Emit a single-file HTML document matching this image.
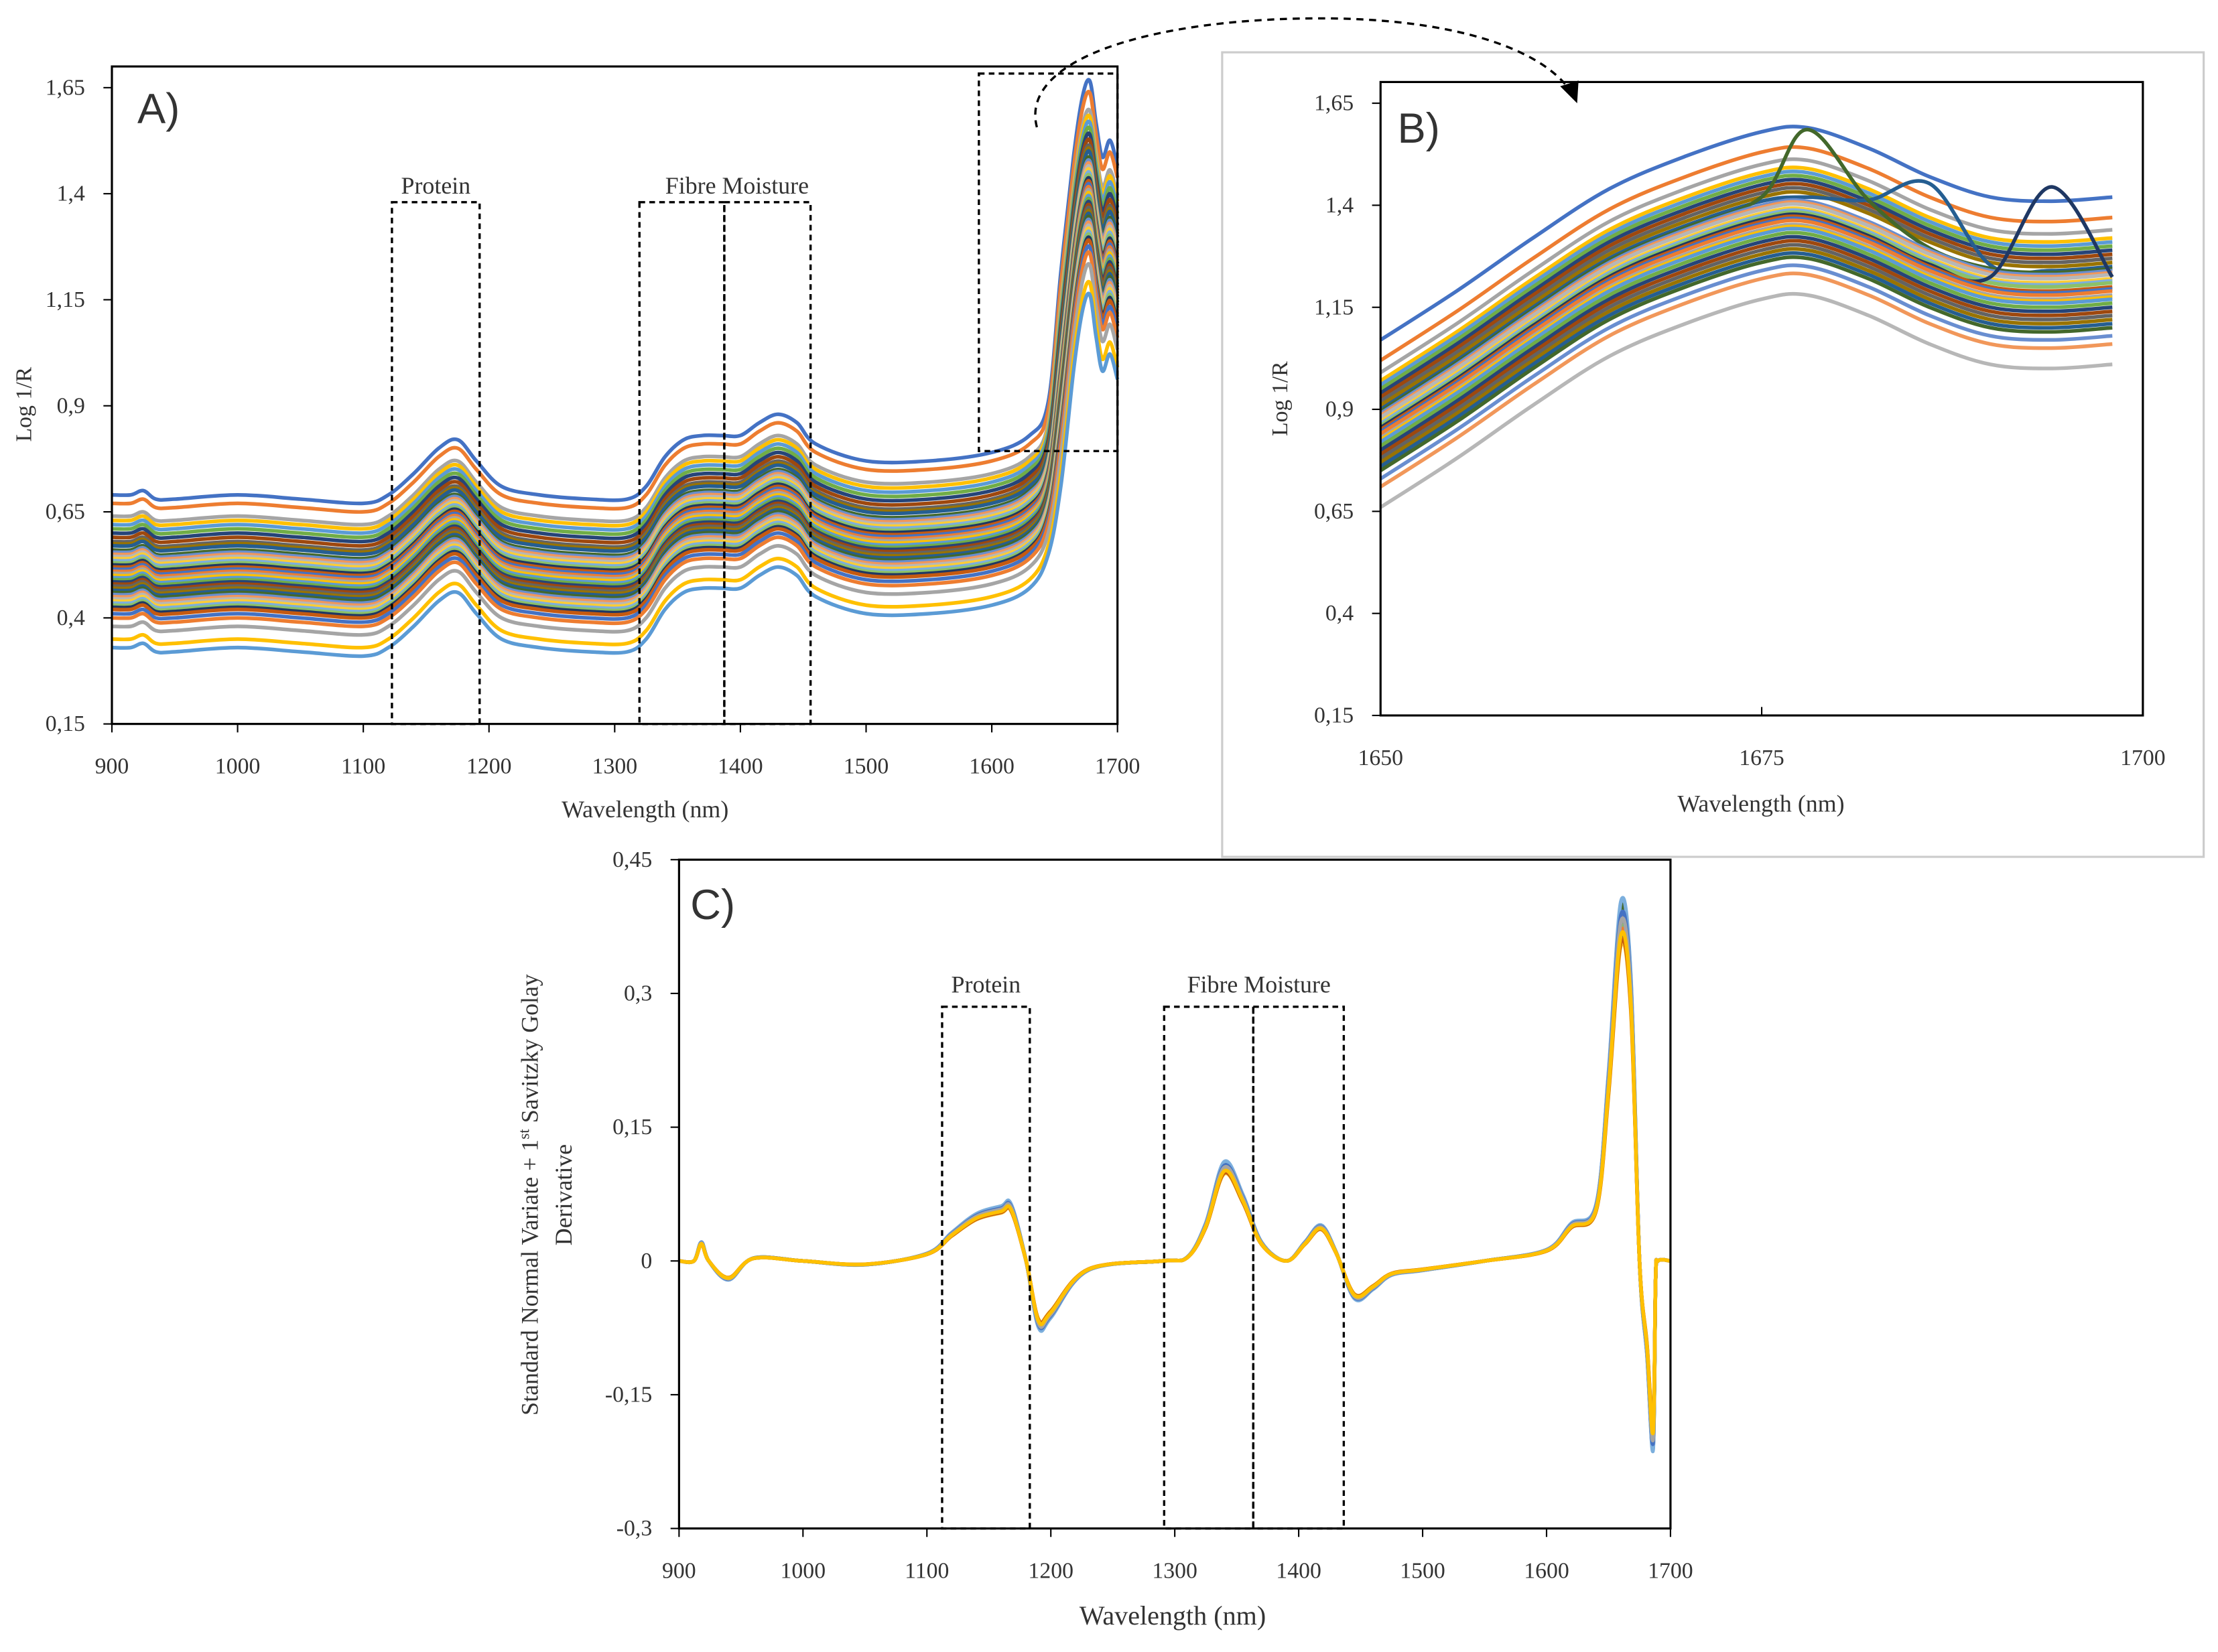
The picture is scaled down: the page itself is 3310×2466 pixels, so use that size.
<!DOCTYPE html>
<html><head><meta charset="utf-8"><style>
html,body{margin:0;padding:0;background:#fff}
svg text{font-family:"Liberation Serif",serif;fill:#333}
</style></head><body>
<svg id="fig" xmlns="http://www.w3.org/2000/svg" width="3310" height="2461" viewBox="0 0 1568 1166">
<rect width="1568" height="1166" fill="#fff"/>
<g id="A"></g>
<g id="B"></g>
<g id="C"></g>
<g id="D"></g>
</svg>
<script>
// ---- data ----
const colors=["#4472C4","#ED7D31","#A5A5A5","#FFC000","#5B9BD5","#70AD47","#264478","#9E480E","#636363","#997300","#255E91","#43682B","#698ED0","#F1975A","#B7B7B7","#FFCD33","#7CAFDD","#8CC168","#1F3864","#C55A11"];
const aWave=[900,915,925,935,950,1000,1050,1100,1120,1140,1160,1175,1190,1210,1240,1280,1310,1325,1340,1355,1370,1385,1400,1415,1430,1445,1460,1500,1550,1600,1630,1645,1655,1665,1672,1678,1683,1688,1694,1700];
const aBase=[0.50,0.50,0.51,0.49,0.49,0.50,0.49,0.48,0.50,0.55,0.61,0.63,0.58,0.52,0.50,0.49,0.49,0.52,0.59,0.63,0.64,0.64,0.64,0.67,0.69,0.67,0.62,0.58,0.58,0.60,0.64,0.72,0.95,1.22,1.36,1.40,1.30,1.22,1.26,1.20];
const aOffsets=[0.19,0.17,0.14,0.13,0.12,0.11,0.10,0.09,0.08,0.075,0.07,0.06,0.055,0.05,0.045,0.04,0.035,0.03,0.025,0.02,0.015,0.01,0.005,0,-0.005,-0.01,-0.015,-0.02,-0.025,-0.03,-0.035,-0.04,-0.045,-0.05,-0.055,-0.06,-0.065,-0.07,-0.075,-0.08,-0.09,-0.1,-0.12,-0.15,-0.17];
const bWave=[1650,1655,1660,1665,1670,1675,1678,1682,1686,1690,1694,1698];
const bBase=[0.85,0.97,1.10,1.22,1.30,1.36,1.37,1.32,1.25,1.20,1.19,1.20];
const bOffsets=[0.22,0.17,0.14,0.12,0.11,0.10,0.09,0.08,0.07,0.06,0.05,0.045,0.04,0.035,0.03,0.02,0.015,0.01,0.005,0,-0.005,-0.01,-0.02,-0.025,-0.03,-0.04,-0.05,-0.06,-0.07,-0.08,-0.09,-0.1,-0.12,-0.14,-0.19];
const bPeakSeries=[11,10,18];
const bPeakWave=[1679,1685,1694];
const bPeakAmp=[0.2,0.18,0.25];
const cWave=[900,912,918,924,940,960,1000,1050,1100,1120,1140,1160,1168,1180,1190,1200,1230,1290,1310,1325,1340,1355,1370,1390,1405,1418,1430,1445,1460,1475,1500,1550,1600,1620,1640,1650,1660,1668,1675,1681,1686,1688,1690,1700];
const cBase=[0,0,0.02,0.0,-0.02,0.003,0,-0.004,0.008,0.03,0.05,0.058,0.06,0.0,-0.07,-0.06,-0.01,0,0.004,0.04,0.105,0.07,0.02,0.0,0.02,0.038,0.01,-0.04,-0.03,-0.015,-0.01,0.0,0.012,0.04,0.06,0.2,0.38,0.3,0.0,-0.1,-0.2,-0.02,0,0];
const cScale=[1.05,1.03,1.0,0.98,0.96,1.02,0.95,1.04,0.97,1.01,0.99,0.93,1.06,0.98,1.0,0.94,1.02,0.97,1.0,0.96];
const aYTicks=["0,15","0,4","0,65","0,9","1,15","1,4","1,65"];
const aYVals=[0.15,0.4,0.65,0.9,1.15,1.4,1.65];
const aXTicks=[900,1000,1100,1200,1300,1400,1500,1600,1700];
const bXTicks=[1650,1675,1700];
const cYTicks=["-0,3","-0,15","0","0,15","0,3","0,45"];
const cYVals=[-0.3,-0.15,0,0.15,0.3,0.45];

const NS="http://www.w3.org/2000/svg";
function mk(parent,tag,attrs,name,txt){const e=document.createElementNS(NS,tag);for(const k in attrs)e.setAttribute(k,attrs[k]);


if(txt!==undefined)e.textContent=txt;parent.appendChild(e);return e;}
function smooth(pts){let d="M"+pts[0][0].toFixed(1)+","+pts[0][1].toFixed(1);
for(let i=0;i<pts.length-1;i++){const p0=pts[Math.max(0,i-1)],p1=pts[i],p2=pts[i+1],p3=pts[Math.min(pts.length-1,i+2)];
d+="C"+(p1[0]+(p2[0]-p0[0])/6).toFixed(1)+","+(p1[1]+(p2[1]-p0[1])/6).toFixed(1)+" "+(p2[0]-(p3[0]-p1[0])/6).toFixed(1)+","+(p2[1]-(p3[1]-p1[1])/6).toFixed(1)+" "+p2[0].toFixed(1)+","+p2[1].toFixed(1);}
return d;}
function axes(g,x0,x1,y0,y1,xmin,xmax,ymin,ymax){return{sx:v=>x0+(v-xmin)/(xmax-xmin)*(x1-x0),sy:v=>y1-(v-ymin)/(ymax-ymin)*(y1-y0)};}
function dashBox(g,x,y,w,h,name){mk(g,'rect',{x:x,y:y,width:w,height:h,fill:'none',stroke:'#000','stroke-width':1.6,'stroke-dasharray':'4,3'},name);}

// ---- Panel A ----
(function(){const g=document.getElementById('A');
const {sx,sy}=axes(g,79,790,62,512,900,1700,0.15,1.65);
aOffsets.forEach((o,i)=>{const pts=aWave.map((w,j)=>[sx(w),sy(aBase[j]+o*(j>=aWave.length-8?1.4:1))]);
mk(g,'path',{d:smooth(pts),fill:'none',stroke:colors[i%colors.length],'stroke-width':2.6},'spectrum-a-'+i);});
mk(g,'rect',{x:79,y:47,width:711,height:465,fill:'none',stroke:'#000','stroke-width':1.5},'plot-frame-a');
aYVals.forEach((v,i)=>{mk(g,'line',{x1:73,x2:79,y1:sy(v),y2:sy(v),stroke:'#000'},'y-tick-a');
mk(g,'text',{x:60,y:sy(v)+5,'text-anchor':'end','font-size':16},'y-tick-label-a',aYTicks[i]);});
aXTicks.forEach(v=>{mk(g,'line',{x1:sx(v),x2:sx(v),y1:512,y2:518,stroke:'#000'},'x-tick-a');
mk(g,'text',{x:sx(v),y:547,'text-anchor':'middle','font-size':16},'x-tick-label-a',v);});
mk(g,'text',{x:456,y:578,'text-anchor':'middle','font-size':17},'x-axis-title-a','Wavelength (nm)');
mk(g,'text',{x:22,y:286,'text-anchor':'middle','font-size':16,transform:'rotate(-90 22 286)'},'y-axis-title-a','Log 1/R');
mk(g,'text',{x:97,y:87,'font-size':30,style:'font-family:"Liberation Sans",sans-serif',fill:'#000'},'panel-label-a','A)');
dashBox(g,277,143,62,369,'protein-box-a');dashBox(g,452,143,60,369,'fibre-box-a');dashBox(g,512,143,61,369,'moisture-box-a');
dashBox(g,692,52,98,267,'zoom-region-box');
mk(g,'text',{x:308,y:137,'text-anchor':'middle','font-size':17},'protein-label-a','Protein');
mk(g,'text',{x:521,y:137,'text-anchor':'middle','font-size':17},'fibre-moisture-label-a','Fibre Moisture');
})();

// ---- Panel B ----
(function(){const g=document.getElementById('B');
mk(g,'rect',{x:864,y:37,width:694,height:569,fill:'#fff',stroke:'#ccc','stroke-width':1.5},'panel-b-border');
const {sx,sy}=axes(g,976,1515,73,506,1650,1700,0.15,1.65);
bOffsets.forEach((o,i)=>{const pts=bWave.map((w,j)=>{let v=bBase[j]+o;
const k=bPeakSeries.indexOf(i);if(k>=0){const dw=(w-bPeakWave[k])/2.5;v+=bPeakAmp[k]*Math.exp(-dw*dw);}return [sx(w),sy(v)];});
mk(g,'path',{d:smooth(pts),fill:'none',stroke:colors[i%colors.length],'stroke-width':2.6},'spectrum-b-'+i);});
mk(g,'rect',{x:976,y:58,width:539,height:448,fill:'none',stroke:'#000','stroke-width':1.5},'plot-frame-b');
aYVals.forEach((v,i)=>{mk(g,'line',{x1:970,x2:976,y1:sy(v),y2:sy(v),stroke:'#000'},'y-tick-b');
mk(g,'text',{x:957,y:sy(v)+5,'text-anchor':'end','font-size':16},'y-tick-label-b',aYTicks[i]);});
bXTicks.forEach(v=>{mk(g,'line',{x1:sx(v),x2:sx(v),y1:500,y2:506,stroke:'#000'},'x-tick-b');
mk(g,'text',{x:sx(v),y:541,'text-anchor':'middle','font-size':16},'x-tick-label-b',v);});
mk(g,'text',{x:1245,y:574,'text-anchor':'middle','font-size':17},'x-axis-title-b','Wavelength (nm)');
mk(g,'text',{x:910,y:282,'text-anchor':'middle','font-size':16,transform:'rotate(-90 910 282)'},'y-axis-title-b','Log 1/R');
mk(g,'text',{x:988,y:101,'font-size':30,style:'font-family:"Liberation Sans",sans-serif',fill:'#000'},'panel-label-b','B)');
})();

// ---- Panel C ----
(function(){const g=document.getElementById('C');
const {sx,sy}=axes(g,480,1181,608,1081,900,1700,-0.3,0.45);
cScale.forEach((s,i)=>{const pts=cWave.map((w,j)=>[sx(w),sy(cBase[j]*s)]);
mk(g,'path',{d:smooth(pts),fill:'none',stroke:colors[(i+4)%colors.length],'stroke-width':2.6},'derivative-c-'+i);});
mk(g,'rect',{x:480,y:608,width:701,height:473,fill:'none',stroke:'#000','stroke-width':1.5},'plot-frame-c');
cYVals.forEach((v,i)=>{mk(g,'line',{x1:474,x2:480,y1:sy(v),y2:sy(v),stroke:'#000'},'y-tick-c');
mk(g,'text',{x:461,y:sy(v)+5,'text-anchor':'end','font-size':16},'y-tick-label-c',cYTicks[i]);});
aXTicks.forEach(v=>{mk(g,'line',{x1:sx(v),x2:sx(v),y1:1081,y2:1087,stroke:'#000'},'x-tick-c');
mk(g,'text',{x:sx(v),y:1116,'text-anchor':'middle','font-size':16},'x-tick-label-c',v);});
mk(g,'text',{x:829,y:1149,'text-anchor':'middle','font-size':19},'x-axis-title-c','Wavelength (nm)');
const t=mk(g,'text',{x:380,y:845,'text-anchor':'middle','font-size':17,transform:'rotate(-90 380 845)'},'y-axis-title-c','Standard Normal Variate + 1');
const sup=document.createElementNS(NS,'tspan');sup.setAttribute('font-size','11');sup.setAttribute('dy','-6');sup.textContent='st';t.appendChild(sup);
const rest=document.createElementNS(NS,'tspan');rest.setAttribute('dy','6');rest.textContent=' Savitzky Golay';t.appendChild(rest);
mk(g,'text',{x:404,y:845,'text-anchor':'middle','font-size':17,transform:'rotate(-90 404 845)'},'y-axis-title-c-line2','Derivative');
mk(g,'text',{x:488,y:650,'font-size':30,style:'font-family:"Liberation Sans",sans-serif',fill:'#000'},'panel-label-c','C)');
dashBox(g,666,712,62,369,'protein-box-c');dashBox(g,823,712,63,369,'fibre-box-c');dashBox(g,886,712,64,369,'moisture-box-c');
mk(g,'text',{x:697,y:702,'text-anchor':'middle','font-size':17},'protein-label-c','Protein');
mk(g,'text',{x:890,y:702,'text-anchor':'middle','font-size':17},'fibre-moisture-label-c','Fibre Moisture');
})();

// ---- Arrow on top ----
(function(){const g=document.getElementById('D');
mk(g,'path',{d:'M733,90 C720,40 820,12 940,13 C1030,14 1090,35 1110,64',fill:'none',stroke:'#000','stroke-width':1.6,'stroke-dasharray':'5,4'},'zoom-arrow');
mk(g,'path',{d:'M1103,61 L1115,73 L1116,57 Z',fill:'#000'},'zoom-arrow-head');
})();
</script>
</body></html>
